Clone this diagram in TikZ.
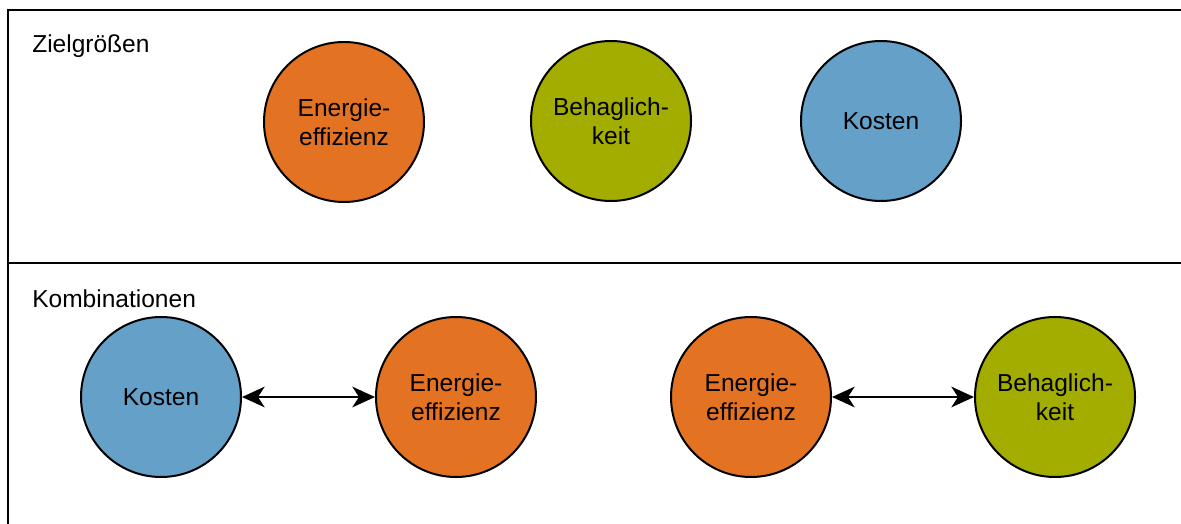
\documentclass[tikz,border=0pt]{standalone}
\usepackage{fontspec}
\setmainfont{Liberation Sans}
\usetikzlibrary{arrows.meta}
\definecolor{tumorange}{HTML}{E37222}
\definecolor{tumgreen}{HTML}{A2AD00}
\definecolor{tumblue}{HTML}{64A0C8}
\tikzset{
  goal/.style={circle, draw=black, line width=1.5pt, minimum size=120pt, inner sep=0pt,
    align=center, text depth=-3.8pt, font=\fontsize{18.4}{21.9}\selectfont},
  energy/.style={goal, fill=tumorange},
  comfort/.style={goal, fill=tumgreen},
  cost/.style={goal, fill=tumblue},
  heading/.style={anchor=west, inner sep=0pt, font=\fontsize{18.4}{22.5}\selectfont},
  link/.style={line width=1.5pt, {Stealth[length=17pt,width=15.5pt,inset=5pt]}-{Stealth[length=17pt,width=15.5pt,inset=5pt]}},
  frame/.style={line width=1.6pt}
}
\begin{document}
\begin{tikzpicture}[x=0.75pt, y=-0.75pt]
  \useasboundingbox (0,0) rectangle (1181,524);
  \clip (0,0) rectangle (1181,524);
  % panel frame and divider
  \draw[frame] (8,10) rectangle (1200,560);
  \draw[frame] (8,263) -- (1200,263);
  % section headings
  \node[heading] (h1) at (32,46) {Zielgrößen};
  \node[heading] (h2) at (32,299) {Kombinationen};
  % target quantities
  \node[energy]  (e1) at (344,122) {Energie-\\effizienz};
  \node[comfort] (b1) at (611,121) {Behaglich-\\keit};
  \node[cost]    (k1) at (881,121) {Kosten};
  % combinations
  \node[cost]    (k2) at (161,397) {Kosten};
  \node[energy]  (e2) at (456,397) {Energie-\\effizienz};
  \node[energy]  (e3) at (751,397) {Energie-\\effizienz};
  \node[comfort] (b2) at (1055,397) {Behaglich-\\keit};
  \draw[link] (k2) -- (e2);
  \draw[link] (e3) -- (b2);
\end{tikzpicture}
\end{document}
